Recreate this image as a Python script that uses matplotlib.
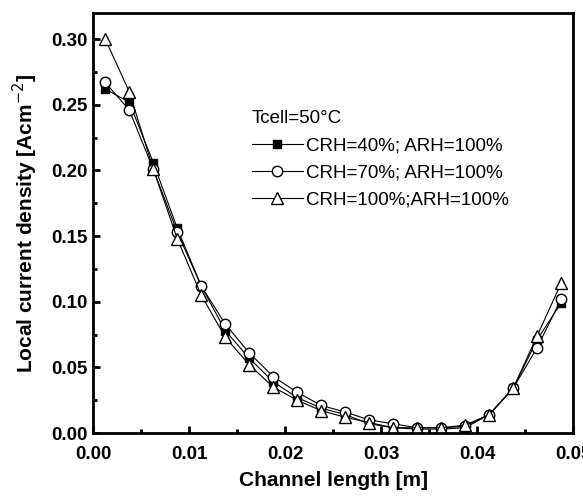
import numpy as np
import matplotlib.pyplot as plt
from matplotlib.ticker import MultipleLocator

plt.rcParams['font.family'] = ['Liberation Sans', 'DejaVu Sans']

# channel positions [m]
x = [0.00125, 0.00375, 0.00625, 0.00875, 0.01125, 0.01375, 0.01625, 0.01875, 0.02125, 0.02375,
     0.02625, 0.02875, 0.03125, 0.03375, 0.03625, 0.03875, 0.04125, 0.04375, 0.04625, 0.04875]

# local current density [A cm-2]
crh40 = [0.262, 0.252, 0.206, 0.156, 0.112, 0.078, 0.057, 0.039, 0.027, 0.019,
         0.014, 0.007, 0.004, 0.003, 0.003, 0.004, 0.014, 0.034, 0.071, 0.099]
crh70 = [0.267, 0.246, 0.201, 0.153, 0.112, 0.083, 0.061, 0.043, 0.031, 0.021,
         0.016, 0.010, 0.007, 0.004, 0.004, 0.005, 0.014, 0.034, 0.065, 0.102]
crh100 = [0.300, 0.260, 0.201, 0.148, 0.105, 0.073, 0.052, 0.035, 0.025, 0.017,
          0.012, 0.008, 0.004, 0.004, 0.004, 0.006, 0.014, 0.034, 0.074, 0.114]

fig = plt.figure(figsize=(5.83, 4.96), dpi=100)
ax = fig.add_axes([0.160, 0.127, 0.823, 0.847])

ax.plot(x, crh40, 'k-', lw=0.8, marker='s', ms=6, mfc='black', mec='black', label='CRH=40%; ARH=100%')
ax.plot(x, crh70, 'k-', lw=0.8, marker='o', ms=7.5, mfc='white', mec='black', label='CRH=70%; ARH=100%')
ax.plot(x, crh100, 'k-', lw=0.8, marker='^', ms=9, mfc='white', mec='black', label='CRH=100%;ARH=100%')

ax.set_xlim(0, 0.05)
ax.set_ylim(0, 0.32)
ax.xaxis.set_major_locator(MultipleLocator(0.01))
ax.xaxis.set_minor_locator(MultipleLocator(0.005))
ax.yaxis.set_major_locator(MultipleLocator(0.05))
ax.yaxis.set_minor_locator(MultipleLocator(0.025))
ax.xaxis.set_major_formatter(plt.FormatStrFormatter('%.2f'))
ax.yaxis.set_major_formatter(plt.FormatStrFormatter('%.2f'))
ax.tick_params(which='both', direction='in', width=2)
ax.tick_params(which='major', length=5, labelsize=13.5, pad=4)
ax.tick_params(axis='x', which='major', pad=9)
ax.tick_params(which='minor', length=3)
for lab in ax.get_xticklabels() + ax.get_yticklabels():
    lab.set_fontweight('bold')
for s in ax.spines.values():
    s.set_linewidth(2)

ax.set_xlabel('Channel length [m]', fontsize=15, fontweight='bold', labelpad=6)
ax.set_ylabel('Local current density [Acm$^{-2}$]', fontsize=15, fontweight='bold', labelpad=8)

leg = ax.legend(loc='upper left', bbox_to_anchor=(0.311, 0.79), frameon=False, fontsize=13.5,
                title='Tcell=50°C', title_fontsize=13.5, handlelength=2.7, handletextpad=0.2,
                labelspacing=0.52, borderpad=0)
leg._legend_box.align = 'left'

fig.savefig('out.png', dpi=100)
